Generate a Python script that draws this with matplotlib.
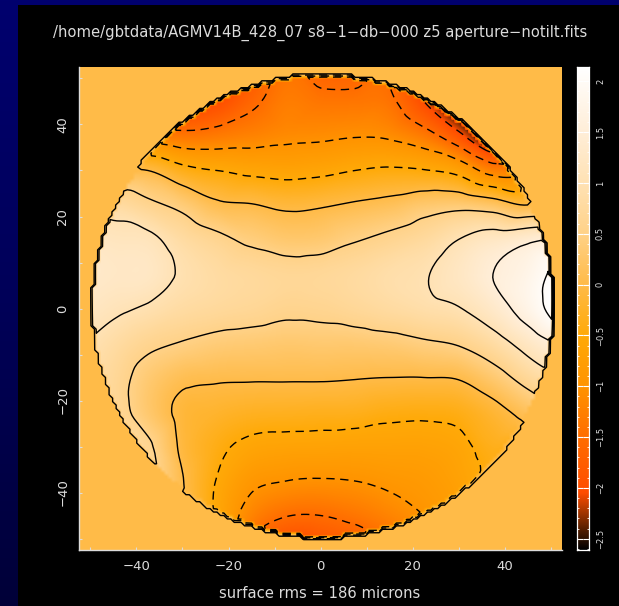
import numpy as np
import matplotlib
matplotlib.use('Agg')
import matplotlib.pyplot as plt
import matplotlib.tri as mtri
from matplotlib.colors import LinearSegmentedColormap

# --- surface values at 7.5 unit nodes --- #
x_nodes = [-52.5, -45, -37.5, -30, -22.5, -15, -7.5, 0, 7.5, 15, 22.5, 30, 37.5, 45, 52.5]
y_nodes = [52.5, 45, 37.5, 30, 22.5, 15, 7.5, 0, -7.5, -15, -22.5, -30, -37.5, -45, -52.5]

col_m525 = [-2.0, -2.0, -1.0, 0.0, 0.8, 1.25, 1.35, 1.25, 1.05, 0.95, 1.0, 1.2, 1.3, 1.4, 1.5]
col_m450 = [-2.0, -2.0, -1.0, 0.02, 0.8, 1.15, 1.25, 1.08, 0.82, 0.68, 0.7, 0.9, 1.1, 1.2, 1.3]
col_m375 = [-2.8, -2.2, -1.2, 0.0, 0.6, 1.1, 1.22, 0.95, 0.6, 0.33, 0.28, 0.58, 0.7, 0.7, 0.8]
col_m300 = [-2.5, -2.2, -1.35, -0.35, 0.38, 0.8, 0.95, 0.8, 0.48, 0.1, -0.1, -0.08, 0.02, 0.1, 0.2]
col_m225 = [-2.4, -2.0, -1.3, -0.5, 0.08, 0.6, 0.8, 0.72, 0.38, 0.05, -0.2, -0.4, -0.52, -0.58, -0.65]
col_m150 = [-1.9, -1.6, -1.2, -0.6, 0.02, 0.42, 0.72, 0.66, 0.34, 0.04, -0.28, -0.6, -0.9, -1.2, -1.6]
col_m075 = [-1.45, -1.3, -1.1, -0.65, -0.08, 0.3, 0.66, 0.58, 0.3, 0.04, -0.3, -0.65, -1.0, -1.48, -2.1]
col_000 = [-1.7, -1.38, -1.07, -0.6, -0.04, 0.32, 0.68, 0.6, 0.32, 0.04, -0.32, -0.66, -1.03, -1.5, -2.0]
col_075 = [-1.7, -1.38, -1.02, -0.5, 0.05, 0.47, 0.76, 0.68, 0.32, 0.02, -0.33, -0.68, -1.0, -1.38, -1.9]
col_150 = [-1.6, -1.42, -1.06, -0.44, 0.14, 0.6, 0.88, 0.78, 0.36, 0.0, -0.4, -0.68, -0.92, -1.2, -1.6]
col_225 = [-2.6, -2.0, -1.3, -0.48, 0.3, 0.75, 0.97, 0.88, 0.45, 0.0, -0.42, -0.68, -0.85, -1.0, -1.3]
col_300 = [-3.2, -2.8, -1.85, -0.65, 0.36, 1.0, 1.2, 0.98, 0.54, 0.03, -0.38, -0.6, -0.7, -0.8, -1.0]
col_375 = [-4.0, -3.5, -2.7, -1.2, 0.25, 1.22, 1.5, 1.28, 0.8, 0.3, -0.15, -0.35, -0.45, -0.6, -0.8]
col_450 = [-3.0, -3.0, -2.5, -1.2, 0.0, 1.4, 1.75, 1.72, 1.2, 0.68, 0.15, -0.4, -0.6, -0.7, -0.8]
col_525 = [-3.0, -3.0, -2.5, -1.0, 0.4, 1.6, 2.2, 2.3, 1.6, 1.0, 0.5, 0.0, -0.4, -0.6, -0.8]

columns = [col_m525, col_m450, col_m375, col_m300, col_m225, col_m150, col_m075, col_000,
           col_075, col_150, col_225, col_300, col_375, col_450, col_525]

levels = [-2.5, -2.0, -1.5, -1.0, -0.5, 0.0, 0.5, 1.0, 1.5, 2.0]
cbar_labels = ['2', '1.5', '1', '0.5', '0', '\u22120.5', '\u22121', '\u22121.5', '\u22122', '\u22122.5']
cbar_ticks = [2, 1.5, 1, 0.5, 0, -0.5, -1, -1.5, -2, -2.5]

cmap_values = [-2.61, -2.4, -2.2, -2.05, -1.5, -1.0, -0.5, 0.0, 0.5, 1.0, 1.5, 2.14]
cmap_colors = ['#000000', '#5a2000', '#b83c00', '#ff4c00', '#ff6e00', '#ff9400', '#ffaa08',
               '#ffbb48', '#ffd288', '#ffe2b4', '#ffeed8', '#ffffff']

title = '/home/gbtdata/AGMV14B_428_07 s8\u22121\u2212db\u2212000 z5 aperture\u2212notilt.fits'
xlabel = 'surface rms = 186 microns'

W, H = 619.0, 606.0
vmin, vmax = cmap_values[0], cmap_values[-1]
lim = 52.5
radius = 50.2
cx, cy = 0.5, 0.5
light = '#dcdcdc'

# ------------------------------------------------------------- #
pos = [(v - vmin) / (vmax - vmin) for v in cmap_values]
cmap = LinearSegmentedColormap.from_list('aperture', list(zip(pos, cmap_colors)), N=512)

xx, yy = np.meshgrid(x_nodes, y_nodes, indexing='ij')
tri = mtri.Triangulation(xx.ravel(), yy.ravel())
interp = mtri.CubicTriInterpolator(tri, np.array(columns).ravel(), kind='geom')

fx = np.arange(-52.5, 52.51, 0.75)
fy = np.arange(-52.5, 52.51, 0.75)
FX, FY = np.meshgrid(fx, fy)
surface = np.ma.filled(interp(FX, FY), 0.0)
surface[(FX - cx) ** 2 + (FY - cy) ** 2 > radius ** 2] = 1e-3   # outside of the dish


def px_axes(left, top, right, bottom):
    return fig.add_axes([left / W, 1 - bottom / H, (right - left) / W, (bottom - top) / H])


fig = plt.figure(figsize=(W / 100, H / 100), dpi=100, facecolor='black')

# navy slide background behind the black panel
bg = fig.add_axes([0, 0, 1, 1], zorder=-5)
bg.imshow(np.linspace(0, 1, 256).reshape(-1, 1), aspect='auto', extent=[0, W, H, 0],
          cmap=LinearSegmentedColormap.from_list('navy', ['#00006e', '#000058', '#000038']))
bg.add_patch(plt.Rectangle((18, 5), W, H, color='black', lw=0))
bg.set_xlim(0, W)
bg.set_ylim(H, 0)
bg.axis('off')

ax = px_axes(79, 67, 562, 550)
ax.set_facecolor('black')
ax.imshow(surface, origin='lower', extent=[-52.5, 52.5, -52.5, 52.5], cmap=cmap, vmin=vmin, vmax=vmax,
          interpolation='bilinear', aspect='auto')
ax.contour(fx, fy, surface, levels=levels, colors='black', linewidths=1.0,
           negative_linestyles=(0, (6, 4)))
ax.set_xlim(-lim, lim)
ax.set_ylim(-lim, lim)
for s in ['top', 'right']:
    ax.spines[s].set_visible(False)
for s in ['left', 'bottom']:
    ax.spines[s].set_color(light)
    ax.spines[s].set_linewidth(1.0)
ax.set_xticks(np.arange(-50, 51, 10))
ax.set_yticks(np.arange(-50, 51, 10))
ax.set_xticklabels(['' if t % 20 else str(t).replace('-', '\u2212') for t in range(-50, 51, 10)])
ax.set_yticklabels(['' if t % 20 else str(t).replace('-', '\u2212') for t in range(-50, 51, 10)],
                   rotation=90, va='center')
ax.tick_params(direction='in', length=2.5, width=0.8, color=light, labelcolor=light, labelsize=9.5, pad=7)

fig.text(320 / W, 1 - 33 / H, title, color=light, fontsize=10.6, ha='center', va='center')
fig.text(320 / W, 1 - 594 / H, xlabel, color=light, fontsize=10.6, ha='center', va='center')

# colour bar
cax = px_axes(577, 67, 589, 550)
grad = np.linspace(vmax, vmin, 512).reshape(-1, 1)
cax.imshow(grad, aspect='auto', cmap=cmap, vmin=vmin, vmax=vmax, extent=[0, 1, vmin, vmax])
cax.set_xticks([])
cax.yaxis.tick_right()
cax.set_yticks(cbar_ticks)
cax.set_yticklabels(cbar_labels, rotation=90, va='center')
cax.set_yticks(np.arange(-2.6, 2.11, 0.1), minor=True)
cax.tick_params(which='major', direction='in', length=4, width=0.8, color='white', labelcolor=light,
                labelsize=6, pad=5, left=True, right=True)
cax.tick_params(which='minor', direction='in', length=1.5, width=0.6, color='white', left=True, right=True)
for s in cax.spines.values():
    s.set_color('white')
    s.set_linewidth(0.9)

fig.savefig('out.png', dpi=100, facecolor='black')
